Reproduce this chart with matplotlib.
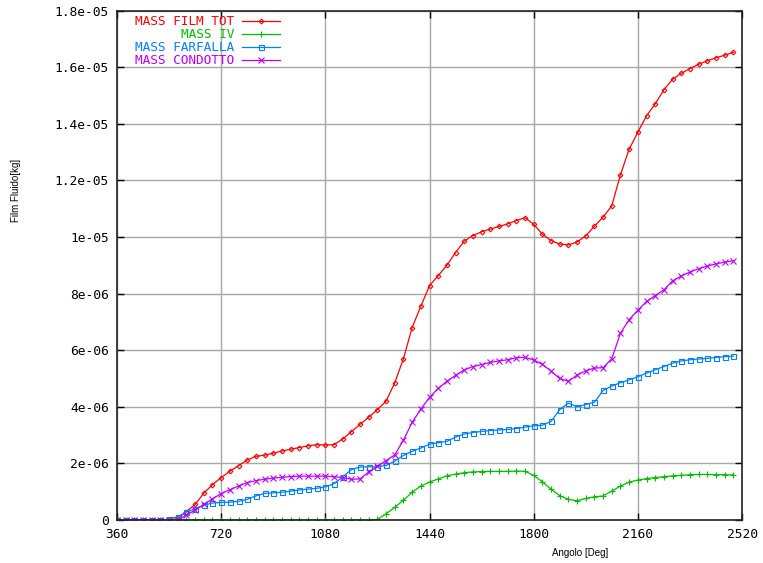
import matplotlib
matplotlib.use("Agg")
import matplotlib.pyplot as plt
import numpy as np

# crank angle [deg], one sample every 30 deg
angle = np.arange(360, 2491, 30)

# fluid film mass, in 1e-6 kg
mass_film_tot = [
    0, 0, 0, 0, 0, 0, 0, 0.05, 0.3, 0.55, 0.95, 1.25, 1.5, 1.72, 1.92, 2.12,
    2.25, 2.29, 2.36, 2.44, 2.5, 2.56, 2.62, 2.66, 2.65, 2.66, 2.86, 3.12,
    3.38, 3.63, 3.9, 4.2, 4.85, 5.7, 6.8, 7.55, 8.28, 8.63, 9.0, 9.45, 9.85,
    10.05, 10.18, 10.28, 10.37, 10.46, 10.58, 10.68, 10.45, 10.1, 9.87, 9.75,
    9.72, 9.82, 10.04, 10.38, 10.7, 11.1, 12.2, 13.1, 13.7, 14.28, 14.7,
    15.2, 15.57, 15.78, 15.95, 16.1, 16.22, 16.33, 16.42, 16.52]
mass_iv = [
    0, 0, 0, 0, 0, 0, 0, 0, 0, 0, 0, 0, 0, 0, 0, 0, 0, 0, 0, 0, 0, 0, 0, 0,
    0, 0, 0, 0, 0, 0, 0.02, 0.22, 0.45, 0.7, 0.98, 1.2, 1.34, 1.45, 1.56,
    1.62, 1.67, 1.7, 1.71, 1.72, 1.72, 1.72, 1.73, 1.72, 1.58, 1.35, 1.09,
    0.86, 0.73, 0.68, 0.76, 0.82, 0.85, 1.02, 1.2, 1.34, 1.41, 1.46, 1.5,
    1.53, 1.56, 1.58, 1.6, 1.61, 1.61, 1.6, 1.6, 1.59]
mass_farfalla = [
    0, 0, 0, 0, 0, 0, 0.03, 0.12, 0.28, 0.4, 0.52, 0.6, 0.62, 0.63, 0.66,
    0.73, 0.85, 0.94, 0.96, 0.98, 1.02, 1.06, 1.09, 1.12, 1.17, 1.28, 1.52,
    1.78, 1.87, 1.88, 1.88, 1.93, 2.08, 2.28, 2.43, 2.54, 2.68, 2.73, 2.78,
    2.93, 3.04, 3.09, 3.13, 3.16, 3.18, 3.2, 3.23, 3.28, 3.33, 3.35, 3.48,
    3.9, 4.13, 4.0, 4.08, 4.16, 4.58, 4.73, 4.85, 4.95, 5.06, 5.19, 5.31,
    5.42, 5.54, 5.62, 5.66, 5.69, 5.71, 5.74, 5.77, 5.79]
mass_condotto = [
    0, 0, 0, 0, 0, 0, 0, 0, 0.17, 0.35, 0.55, 0.75, 0.93, 1.07, 1.2, 1.32,
    1.39, 1.44, 1.48, 1.51, 1.53, 1.55, 1.55, 1.55, 1.55, 1.53, 1.5, 1.44,
    1.45, 1.7, 1.9, 2.1, 2.3, 2.82, 3.45, 3.92, 4.33, 4.65, 4.9, 5.11, 5.3,
    5.42, 5.49, 5.57, 5.62, 5.66, 5.73, 5.75, 5.65, 5.5, 5.26, 5.0, 4.9,
    5.12, 5.27, 5.37, 5.38, 5.7, 6.6, 7.08, 7.41, 7.72, 7.93, 8.13, 8.45,
    8.62, 8.76, 8.88, 8.97, 9.05, 9.11, 9.16]

xticks = [360, 720, 1080, 1440, 1800, 2160, 2520]
yticks = [0, 2e-6, 4e-6, 6e-6, 8e-6, 1e-5, 1.2e-5, 1.4e-5, 1.6e-5, 1.8e-5]
ytick_labels = ["0", "2e-06", "4e-06", "6e-06", "8e-06", "1e-05",
                "1.2e-05", "1.4e-05", "1.6e-05", "1.8e-05"]

mono = "DejaVu Sans Mono"

fig = plt.figure(figsize=(7.63, 5.63), dpi=100)
ax = fig.add_axes([117 / 763, 43 / 563, 625 / 763, 509.5 / 563])

series = [
    ("MASS FILM TOT", mass_film_tot, "#ff0000", "D", 2.4),
    ("MASS IV", mass_iv, "#00c000", "+", 4.5),
    ("MASS FARFALLA", mass_farfalla, "#0080ff", "s", 3.6),
    ("MASS CONDOTTO", mass_condotto, "#c000ff", "x", 3.8),
]
for label, vals, col, mk, ms in series:
    ax.plot(angle, np.array(vals) * 1e-6, color=col, lw=0.9,
            marker=mk, ms=ms, mfc="none", mec=col, mew=0.8, label=label)

ax.set_xlim(360, 2520)
ax.set_ylim(0, 1.8e-5)
ax.set_xticks(xticks)
ax.set_yticks(yticks)
ax.set_yticklabels(ytick_labels)
ax.grid(color="#a8a8a8", lw=1)
ax.set_axisbelow(True)
ax.tick_params(direction="in", length=5, width=1, top=True, right=True,
               pad=6, labelsize=9.3, colors="black")
for t in ax.get_xticklabels() + ax.get_yticklabels():
    t.set_family(mono)
for s in ax.spines.values():
    s.set_linewidth(1.2)
    s.set_color("#222222")

leg = ax.legend(loc="upper left", bbox_to_anchor=(18 / 625, 1 - 4.5 / 509.5),
                frameon=False, markerfirst=False, numpoints=1,
                labelcolor="linecolor", handlelength=3.0, handletextpad=0.6,
                labelspacing=0.0, borderpad=0, borderaxespad=0,
                prop={"family": mono, "size": 9.2})

fig.text(580 / 763, 1 - 553 / 563, "Angolo [Deg]", ha="center", va="center",
         family="Liberation Sans", fontsize=7)
fig.text(16 / 763, 1 - 190 / 563, "Film Fluido[kg]", ha="center",
         va="center", rotation=90, family="Liberation Sans", fontsize=7)

fig.savefig("out.png", dpi=100, facecolor="white")
